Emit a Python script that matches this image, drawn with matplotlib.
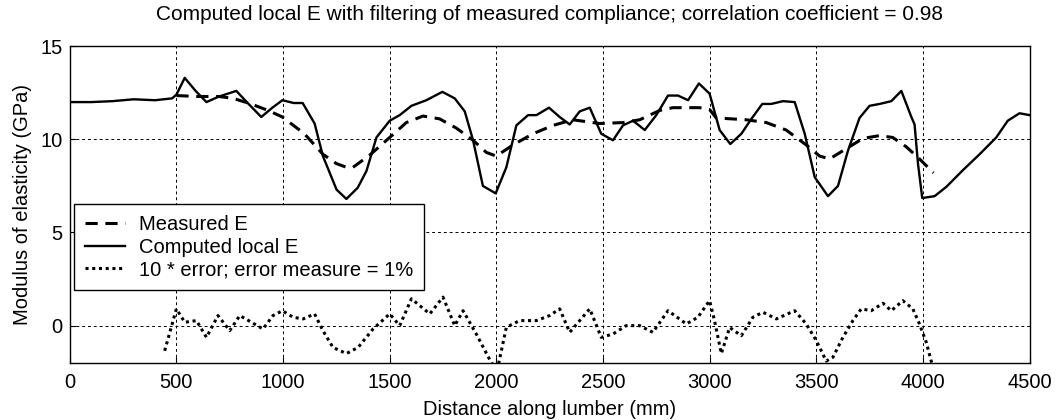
import matplotlib
matplotlib.use("Agg")
import matplotlib.pyplot as plt

plt.rcParams['font.family'] = ['Liberation Sans', 'DejaVu Sans']

# Computed local E (solid)
local_x = [0, 100, 200, 300, 400, 480, 500, 539, 590, 641, 700, 781, 830, 898, 950, 997,
           1050, 1092, 1148, 1187, 1251, 1297, 1350, 1391, 1438, 1500, 1547, 1602, 1672,
           1747, 1805, 1852, 1891, 1937, 1997, 2047, 2094, 2149, 2188, 2247, 2297, 2344,
           2391, 2438, 2492, 2547, 2594, 2641, 2696, 2750, 2805, 2852, 2899, 2950, 3000,
           3047, 3097, 3149, 3196, 3247, 3289, 3344, 3399, 3446, 3493, 3555, 3602, 3649,
           3703, 3750, 3797, 3852, 3899, 3946, 3961, 3977, 3997, 4055, 4110, 4188, 4266,
           4344, 4398, 4453, 4500]
local_e = [12.0, 12.0, 12.05, 12.15, 12.1, 12.2, 12.4, 13.3, 12.6, 12.0, 12.3, 12.6, 12.0,
           11.2, 11.7, 12.1, 11.95, 11.95, 10.85, 9.1, 7.3, 6.8, 7.4, 8.3, 10.1, 11.0, 11.3,
           11.8, 12.1, 12.55, 12.2, 11.5, 9.95, 7.5, 7.1, 8.5, 10.75, 11.3, 11.3, 11.7, 11.2,
           10.8, 11.5, 11.7, 10.3, 9.95, 10.75, 11.0, 10.5, 11.3, 12.35, 12.35, 12.1, 13.0,
           12.45, 10.5, 9.75, 10.3, 11.1, 11.9, 11.9, 12.05, 12.0, 10.3, 7.97, 6.95, 7.5,
           9.4, 11.15, 11.8, 11.9, 12.05, 12.6, 11.2, 10.8, 8.7, 6.85, 6.95, 7.45, 8.35,
           9.2, 10.1, 11.0, 11.4, 11.3]

# Measured E (dashed)
meas_x = [500, 600, 700, 766, 850, 930, 997, 1100, 1187, 1250, 1297, 1328, 1406, 1500,
          1578, 1656, 1734, 1813, 1891, 1953, 2000, 2078, 2172, 2266, 2359, 2484, 2594,
          2672, 2766, 2828, 2953, 3000, 3031, 3172, 3266, 3359, 3453, 3516, 3563, 3641,
          3719, 3797, 3859, 3922, 3984, 4050]
meas_e = [12.35, 12.3, 12.3, 12.2, 11.9, 11.55, 11.2, 10.3, 9.2, 8.7, 8.5, 8.5, 9.15,
          10.1, 10.9, 11.25, 11.1, 10.6, 9.95, 9.3, 9.1, 9.7, 10.3, 10.75, 11.05, 10.85,
          10.9, 11.05, 11.55, 11.7, 11.7, 11.6, 11.15, 11.05, 10.9, 10.5, 9.7, 9.1, 8.95,
          9.5, 10.05, 10.2, 10.1, 9.6, 8.95, 8.2]

# 10 * error (dotted)
err_x = [445, 500, 539, 594, 641, 695, 750, 797, 852, 906, 953, 997, 1047, 1094, 1148,
         1187, 1234, 1297, 1352, 1422, 1500, 1547, 1602, 1688, 1750, 1805, 1844, 1906,
         1977, 2006, 2047, 2109, 2188, 2250, 2297, 2344, 2391, 2438, 2492, 2547, 2609,
         2672, 2734, 2805, 2891, 2945, 3000, 3023, 3055, 3094, 3149, 3203, 3250, 3313,
         3399, 3453, 3500, 3547, 3578, 3625, 3672, 3711, 3758, 3813, 3852, 3906, 3953,
         3984, 4016, 4039, 4060]
err_v = [-1.35, 0.9, 0.18, 0.27, -0.63, 0.54, -0.27, 0.54, 0.18, -0.18, 0.54, 0.8, 0.45,
         0.36, 0.63, -0.27, -1.17, -1.5, -1.17, -0.18, 0.63, 0.0, 1.44, 0.63, 1.53, 0.0,
         0.8, -0.45, -2.0, -2.3, -0.09, 0.27, 0.27, 0.54, 0.9, -0.36, 0.27, 0.9, -0.63,
         -0.45, 0.0, 0.0, -0.36, 0.8, 0.09, 0.45, 1.34, 0.27, -1.5, -0.1, -0.54, 0.45,
         0.72, 0.36, 0.8, 0.09, -0.8, -1.9, -1.7, -0.63, 0.27, 0.9, 0.8, 1.2, 0.8, 1.34,
         0.9, 0.09, -0.9, -1.9, -2.5]

x_ticks = [0, 500, 1000, 1500, 2000, 2500, 3000, 3500, 4000, 4500]
y_ticks = [0, 5, 10, 15]

fig = plt.figure(figsize=(10.57, 4.2), dpi=100)
ax = fig.add_axes([0.066, 0.136, 0.908, 0.754])

ax.plot(meas_x, meas_e, color='black', linestyle=(0, (4, 2.5)), linewidth=2.2,
        label='Measured E')
ax.plot(local_x, local_e, color='black', linestyle='-', linewidth=1.7,
        label='Computed local E')
ax.plot(err_x, err_v, color='black', linestyle=(0, (1, 1.2)), linewidth=2.2,
        label='10 * error; error measure = 1%')

ax.set_xlim(0, 4500)
ax.set_ylim(-2, 15)
ax.set_xticks(x_ticks)
ax.set_yticks(y_ticks)
ax.tick_params(direction='in', labelsize=14.5, length=4, width=0.8)
ax.tick_params(axis='x', pad=7)
ax.tick_params(axis='y', pad=5)
ax.grid(True, color='black', linestyle=(0, (3, 3)), linewidth=0.7)
for s in ax.spines.values():
    s.set_linewidth(1.0)

ax.set_xlabel('Distance along lumber (mm)', fontsize=14.5, labelpad=6)
ax.set_ylabel('Modulus of elasticity (GPa)', fontsize=14.5, labelpad=6)
ax.set_title('Computed local E with filtering of measured compliance; correlation coefficient = 0.98',
             fontsize=15, pad=19)

leg = ax.legend(loc='upper left', bbox_to_anchor=(0.004, 0.502), fontsize=14.5,
                frameon=True, fancybox=False, edgecolor='black', framealpha=1,
                handlelength=2.0, handletextpad=0.7, borderaxespad=0,
                labelspacing=0.18, borderpad=0.55)
leg.get_frame().set_linewidth(1.0)

fig.savefig('out.png', dpi=100)
